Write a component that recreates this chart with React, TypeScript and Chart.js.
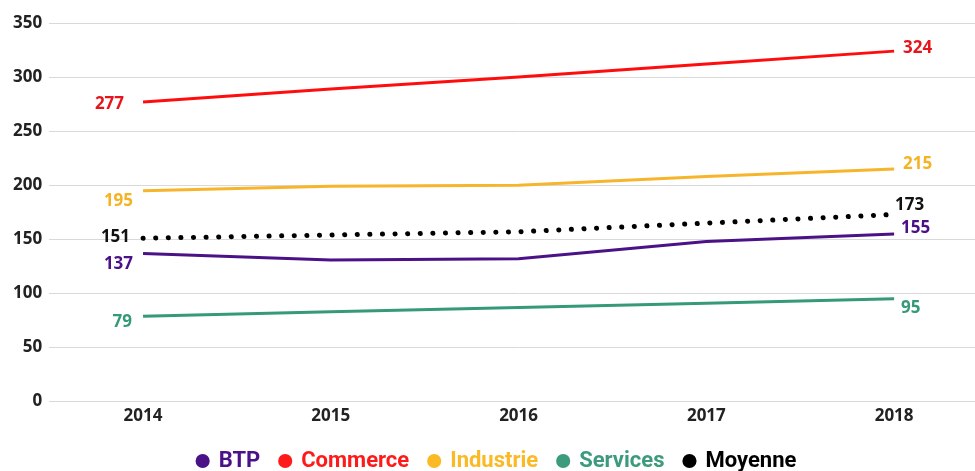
import React, { useEffect, useRef } from "react";
import { Chart, registerables } from "chart.js";

Chart.register(...registerables);

const years = ["2014", "2015", "2016", "2017", "2018"];
const btp = [137, 131, 132, 148, 155];
const commerce = [277, 289, 300, 312, 324];
const industrie = [195, 199, 200, 208, 215];
const services = [79, 83, 87, 91, 95];
const moyenne = [151, 154, 157, 165, 173];
const seriesNames = ["BTP", "Commerce", "Industrie", "Services", "Moyenne"];

const lineColors = ["#4b1288", "#ff0d0d", "#f7b52c", "#35997a", "#000000"];
const labelColors = ["#4b1288", "#e8141b", "#f5b324", "#35997a", "#111111"];
const legendDot = ["#4b1288", "#ff1a1a", "#fbb926", "#3c9a7d", "#000000"];

// label offsets [dx, dy] for first (left) and last (right) point
const firstOffsets = [
  [-10, 11],
  [-19, 2],
  [-10, 10],
  [-11, 6],
  [-13, -1],
];
const lastOffsets = [
  [7, -6],
  [9, -3],
  [9, -5],
  [7, 9],
  [1, -9],
];

const endLabels = {
  id: "endLabels",
  afterDatasetsDraw(chart: any) {
    const ctx = chart.ctx;
    ctx.save();
    ctx.font = 'bold 17px "Open Sans"';
    ctx.textBaseline = "middle";
    chart.data.datasets.forEach((ds: any, i: number) => {
      const meta = chart.getDatasetMeta(i);
      const pts = meta.data;
      const vals = ds.data;
      const f = pts[0];
      const l = pts[pts.length - 1];
      ctx.fillStyle = labelColors[i];
      ctx.textAlign = "right";
      ctx.fillText(String(vals[0]), f.x + firstOffsets[i][0], f.y + firstOffsets[i][1]);
      ctx.textAlign = "left";
      ctx.fillText(String(vals[vals.length - 1]), l.x + lastOffsets[i][0], l.y + lastOffsets[i][1]);
    });
    ctx.restore();
  },
};

export default function App() {
  const ref = useRef<HTMLCanvasElement>(null);
  useEffect(() => {
    document.body.style.margin = "0";
    let chart: any = null;
    let cancelled = false;
    const allData = [btp, commerce, industrie, services, moyenne];
    const build = () => {
      if (cancelled || !ref.current) return;
      chart = new Chart(ref.current, {
        type: "line",
        data: {
          labels: years,
          datasets: allData.map((d, i) => ({
            label: seriesNames[i],
            data: d,
            borderColor: lineColors[i],
            backgroundColor: lineColors[i],
            borderWidth: i === 4 ? 5 : 3,
            borderDash: i === 4 ? [0.1, 12.5] : [],
            borderCapStyle: i === 4 ? "round" : "butt",
            pointRadius: 0,
            tension: 0,
            fill: false,
          })),
        },
        options: {
          animation: false,
          responsive: true,
          maintainAspectRatio: false,
          layout: { padding: { top: 23, left: 6, right: 4, bottom: 0 } },
          scales: {
            x: {
              type: "category",
              offset: true,
              grid: { display: false, drawTicks: false },
              border: { display: false },
              ticks: {
                color: "#222",
                font: { family: "Open Sans", size: 17, weight: "bold" },
                padding: 4,
                maxRotation: 0,
              },
            },
            y: {
              min: 0,
              max: 350,
              grid: { color: "#d9d9d9", lineWidth: 1, drawTicks: false },
              border: { display: false },
              ticks: {
                stepSize: 50,
                color: "#222",
                font: { family: "Open Sans", size: 17, weight: "bold" },
                padding: 7,
              },
            },
          },
          plugins: {
            tooltip: { enabled: false },
            legend: {
              position: "bottom",
              labels: {
                usePointStyle: true,
                boxWidth: 10,
                boxHeight: 10,
                padding: 20,
                font: { family: "Roboto", size: 22, weight: "bold" },
                generateLabels: (c: any) =>
                  c.data.datasets.map((ds: any, i: number) => ({
                    text: ds.label,
                    fillStyle: legendDot[i],
                    strokeStyle: legendDot[i],
                    fontColor: legendDot[i],
                    lineWidth: 0,
                    pointStyle: "circle",
                    hidden: false,
                    datasetIndex: i,
                  })),
              },
            },
          },
        },
        plugins: [endLabels],
      } as any);
    };
    const fonts: any = (document as any).fonts;
    if (fonts && fonts.load) {
      Promise.all([
        fonts.load('bold 17px "Open Sans"'),
        fonts.load('bold 22px "Roboto"'),
      ])
        .catch(() => null)
        .then(build);
    } else {
      build();
    }
    return () => {
      cancelled = true;
      if (chart) chart.destroy();
    };
  }, []);
  return (
    <div style={{ width: 975, height: 471, overflow: "hidden", position: "relative", background: "#fff" }}>
      <div style={{ width: 992, height: 482, position: "absolute", left: 0, top: 0 }}>
        <canvas ref={ref} />
      </div>
    </div>
  );
}
